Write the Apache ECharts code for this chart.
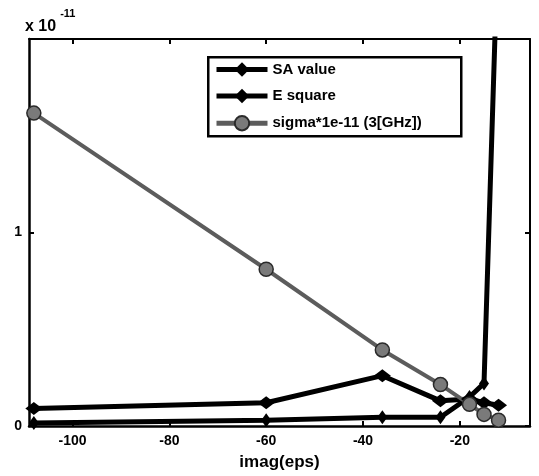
<!DOCTYPE html>
<html>
<head>
<meta charset="utf-8">
<script src="https://cdn.jsdelivr.net/npm/echarts@6/dist/echarts.min.js"></script>
<style>
  html, body { margin: 0; padding: 0; background: #fff; }
  #chart { width: 539px; height: 476px; }
</style>
</head>
<body>
<div id="chart"></div>
<script>
// imag(eps) sample positions
const imagEps = [-108, -60, -36, -24, -18, -15, -12];
// values in units of 1e-11 (axis multiplier shown top-left)
const saValue     = [0.09, 0.12, 0.26, 0.13, 0.14, 0.12, 0.107];
const eSquare     = [0.015, 0.03, 0.045, 0.045, 0.15, 0.22, 2.6];
const sigmaScaled = [1.617, 0.81, 0.393, 0.214, 0.112, 0.06, 0.03];

const seriesNames = ['SA value', 'E square', 'sigma*1e-11 (3[GHz])'];
const xTicks = [-100, -80, -60, -40, -20];
const yTicks = [0, 1];

const FONT = 'Liberation Sans';
const pairs = (ys) => imagEps.map((x, i) => [x, ys[i]]);

const chart = echarts.init(document.getElementById('chart'), null, { renderer: 'canvas' });

const mainLine = { show: true, onZero: false, lineStyle: { color: '#000', width: 2.5 } };
const boxLine = { show: true, onZero: false, lineStyle: { color: '#000', width: 2 } };
const tickStyle = { color: '#000', width: 2 };
const labelStyle = { color: '#000', fontWeight: 'bold', fontSize: 14, fontFamily: FONT };

const SIGMA_LINE = '#5c5c5c';
const SIGMA_FILL = '#7a7a7a';

chart.setOption({
  animation: false,
  backgroundColor: '#fff',
  grid: { left: 29, right: 9, top: 39, bottom: 47, containLabel: false },
  xAxis: [
    {
      type: 'value', min: -109, max: -5.5, position: 'bottom',
      axisLine: mainLine,
      axisTick: { show: true, inside: true, length: 5, customValues: xTicks, lineStyle: tickStyle },
      axisLabel: Object.assign({ customValues: xTicks, margin: 8 }, labelStyle),
      splitLine: { show: false },
      name: 'imag(eps)', nameLocation: 'middle', nameGap: 28,
      nameTextStyle: { color: '#000', fontWeight: 'bold', fontSize: 17, fontFamily: FONT }
    },
    {
      type: 'value', min: -109, max: -5.5, position: 'top',
      axisLine: boxLine,
      axisTick: { show: true, inside: true, length: 5, customValues: xTicks, lineStyle: tickStyle },
      axisLabel: { show: false },
      splitLine: { show: false }
    }
  ],
  yAxis: [
    {
      type: 'value', min: 0, max: 2, position: 'left',
      axisLine: mainLine,
      axisTick: { show: true, inside: true, length: 5, customValues: yTicks, lineStyle: tickStyle },
      axisLabel: Object.assign({ customValues: yTicks, margin: 7 }, labelStyle),
      splitLine: { show: false }
    },
    {
      type: 'value', min: 0, max: 2, position: 'right',
      axisLine: boxLine,
      axisTick: { show: true, inside: true, length: 5, customValues: yTicks, lineStyle: tickStyle },
      axisLabel: { show: false },
      splitLine: { show: false }
    }
  ],
  legend: {
    left: 214, top: 62, orient: 'vertical',
    itemWidth: 51, itemHeight: 18, itemGap: 11.5, padding: 0,
    data: [
      { name: seriesNames[0], lineStyle: { width: 5, color: '#000' } },
      { name: seriesNames[1], lineStyle: { width: 5, color: '#000' } },
      { name: seriesNames[2], lineStyle: { width: 5, color: SIGMA_LINE } }
    ],
    textStyle: { color: '#000', fontWeight: 'bold', fontSize: 15, fontFamily: FONT }
  },
  graphic: [
    {
      type: 'rect', left: 207, top: 56, z: 1,
      shape: { width: 253, height: 79 },
      style: { fill: '#fff', stroke: '#000', lineWidth: 2.5 }
    },
    {
      type: 'text', left: 25, top: 8,
      style: {
        text: '{b|x 10}{s|-11}',
        rich: {
          b: { fontSize: 16, fontWeight: 'bold', fontFamily: FONT, fill: '#000', verticalAlign: 'bottom', padding: [11, 0, 0, 0] },
          s: { fontSize: 11, fontWeight: 'bold', fontFamily: FONT, fill: '#000', verticalAlign: 'top', padding: [0, 0, 11, 4] }
        }
      }
    }
  ],
  series: [
    {
      name: seriesNames[0], type: 'line', data: pairs(saValue),
      symbol: 'diamond', symbolSize: [17, 13], clip: true,
      lineStyle: { color: '#000', width: 5 },
      itemStyle: { color: '#000' }
    },
    {
      name: seriesNames[1], type: 'line', data: pairs(eSquare),
      symbol: 'diamond', symbolSize: [10, 14], clip: true,
      lineStyle: { color: '#000', width: 5 },
      itemStyle: { color: '#000' }
    },
    {
      name: seriesNames[2], type: 'line', data: pairs(sigmaScaled),
      symbol: 'circle', symbolSize: 14, clip: true,
      lineStyle: { color: SIGMA_LINE, width: 4 },
      itemStyle: { color: SIGMA_FILL, borderColor: '#2a2a2a', borderWidth: 1.5 }
    }
  ]
});
</script>
</body>
</html>
